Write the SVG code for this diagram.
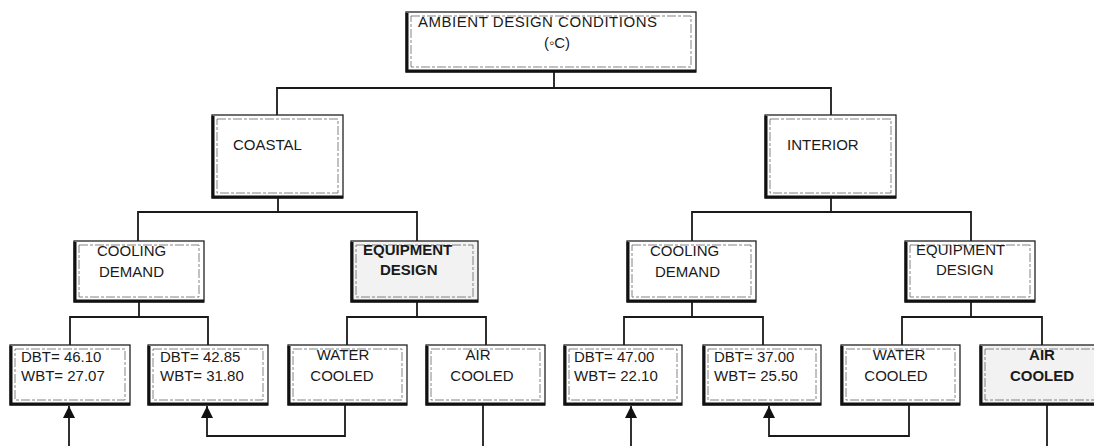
<svg xmlns="http://www.w3.org/2000/svg" width="1094" height="446" viewBox="0 0 1094 446">
<defs>
<style>
.o{fill:#fff;stroke:#222;stroke-width:1.3}
.g{fill:#f2f2f2}
.i{fill:none;stroke:#666;stroke-width:0.8;stroke-dasharray:9 2 3 2}
.s{fill:none;stroke:#111;stroke-width:3}
.t{font-family:"Liberation Sans",Arial,sans-serif;font-size:15px;fill:#1a1a1a}
.b{font-weight:bold}
.m{text-anchor:middle}
.c{fill:none;stroke:#1a1a1a;stroke-width:1.8}
</style>
<marker id="ah" markerUnits="userSpaceOnUse" markerWidth="12" markerHeight="14" refX="12" refY="6" orient="auto">
<path d="M0,0 L12,6 L0,12 Z" fill="#111"/>
</marker>
</defs>
<rect width="1094" height="446" fill="#fff"/>

<g id="connectors">
<path class="c" d="M554,72 V88 M277,115 V88 H831 V115"/>
<path class="c" d="M278,198 V212 M138,241 V212 H417 V241"/>
<path class="c" d="M831,198 V212 M692,241 V212 H971 V241"/>
<path class="c" d="M139,302 V317 M70,345 V317 H208 V345"/>
<path class="c" d="M417,302 V317 M347,345 V317 H486 V345"/>
<path class="c" d="M692,302 V317 M624,345 V317 H763 V345"/>
<path class="c" d="M971,302 V317 M902,345 V317 H1042 V345"/>
<path class="c" d="M69,446 V406" marker-end="url(#ah)"/>
<path class="c" d="M345,405 V436 H207 V406" marker-end="url(#ah)"/>
<path class="c" d="M483,405 V446"/>
<path class="c" d="M631,446 V406" marker-end="url(#ah)"/>
<path class="c" d="M909,405 V436 H769 V406" marker-end="url(#ah)"/>
<path class="c" d="M1047,405 V446"/>
</g>

<g id="ambient">
<rect class="o" x="406" y="12" width="290" height="60"/>
<rect class="i" x="411" y="16" width="280" height="51"/>
<path class="s" d="M407,13 V71 H696"/>
<text class="t" x="418" y="27" textLength="239">AMBIENT DESIGN CONDITIONS</text>
<text class="t m" x="557" y="48" font-size="14">(◦C)</text>
</g>

<g id="coastal">
<rect class="o" x="212" y="115" width="131" height="83"/>
<rect class="i" x="217" y="119" width="121" height="74"/>
<path class="s" d="M213,116 V197 H343"/>
<text class="t" x="233" y="150">COASTAL</text>
</g>

<g id="interior">
<rect class="o" x="765" y="115" width="131" height="83"/>
<rect class="i" x="770" y="119" width="121" height="74"/>
<path class="s" d="M766,116 V197 H896"/>
<text class="t" x="787" y="150">INTERIOR</text>
</g>

<g id="coastal-cooling-demand">
<rect class="o" x="74" y="241" width="130" height="61"/>
<rect class="i" x="79" y="245" width="120" height="52"/>
<path class="s" d="M75,242 V301 H204"/>
<text class="t" x="97" y="256">COOLING</text>
<text class="t" x="99" y="277">DEMAND</text>
</g>

<g id="coastal-equipment-design">
<rect class="o g" x="351" y="241" width="127" height="61"/>
<rect class="i" x="356" y="245" width="117" height="52"/>
<path class="s" d="M352,242 V301 H478"/>
<text class="t b" x="363" y="255">EQUIPMENT</text>
<text class="t b" x="380" y="275">DESIGN</text>
</g>

<g id="interior-cooling-demand">
<rect class="o" x="627" y="241" width="129" height="61"/>
<rect class="i" x="632" y="245" width="119" height="52"/>
<path class="s" d="M628,242 V301 H756"/>
<text class="t" x="650" y="256">COOLING</text>
<text class="t" x="655" y="277">DEMAND</text>
</g>

<g id="interior-equipment-design">
<rect class="o" x="905" y="241" width="130" height="61"/>
<rect class="i" x="910" y="245" width="120" height="52"/>
<path class="s" d="M906,242 V301 H1035"/>
<text class="t" x="916" y="255">EQUIPMENT</text>
<text class="t" x="936" y="275">DESIGN</text>
</g>

<g id="coastal-dbt-46">
<rect class="o" x="10" y="345" width="120" height="60"/>
<rect class="i" x="15" y="349" width="110" height="51"/>
<path class="s" d="M11,346 V404 H130"/>
<text class="t" x="21" y="362" font-size="16">DBT= 46.10</text>
<text class="t" x="21" y="381" font-size="16">WBT= 27.07</text>
</g>

<g id="coastal-dbt-42">
<rect class="o" x="148" y="345" width="120" height="60"/>
<rect class="i" x="153" y="349" width="110" height="51"/>
<path class="s" d="M149,346 V404 H268"/>
<text class="t" x="160" y="362" font-size="16">DBT= 42.85</text>
<text class="t" x="160" y="381" font-size="16">WBT= 31.80</text>
</g>

<g id="coastal-water-cooled">
<rect class="o" x="288" y="345" width="119" height="60"/>
<rect class="i" x="293" y="349" width="109" height="51"/>
<path class="s" d="M289,346 V404 H407"/>
<text class="t m" x="343" y="360" font-size="16">WATER</text>
<text class="t m" x="342" y="381" font-size="16">COOLED</text>
</g>

<g id="coastal-air-cooled">
<rect class="o" x="426" y="345" width="119" height="60"/>
<rect class="i" x="431" y="349" width="109" height="51"/>
<path class="s" d="M427,346 V404 H545"/>
<text class="t m" x="478" y="360" font-size="16">AIR</text>
<text class="t m" x="482" y="381" font-size="16">COOLED</text>
</g>

<g id="interior-dbt-47">
<rect class="o" x="564" y="345" width="118" height="60"/>
<rect class="i" x="569" y="349" width="108" height="51"/>
<path class="s" d="M565,346 V404 H682"/>
<text class="t" x="574" y="362" font-size="16">DBT= 47.00</text>
<text class="t" x="574" y="381" font-size="16">WBT= 22.10</text>
</g>

<g id="interior-dbt-37">
<rect class="o" x="703" y="345" width="118" height="60"/>
<rect class="i" x="708" y="349" width="108" height="51"/>
<path class="s" d="M704,346 V404 H821"/>
<text class="t" x="714" y="362" font-size="16">DBT= 37.00</text>
<text class="t" x="714" y="381" font-size="16">WBT= 25.50</text>
</g>

<g id="interior-water-cooled">
<rect class="o" x="841" y="345" width="119" height="60"/>
<rect class="i" x="846" y="349" width="109" height="51"/>
<path class="s" d="M842,346 V404 H960"/>
<text class="t m" x="899" y="360" font-size="16">WATER</text>
<text class="t m" x="896" y="381" font-size="16">COOLED</text>
</g>

<g id="interior-air-cooled">
<rect class="o g" x="980" y="345" width="122" height="60"/>
<rect class="i" x="985" y="349" width="112" height="51"/>
<path class="s" d="M981,346 V404 H1102"/>
<text class="t m b" x="1042" y="360" font-size="16">AIR</text>
<text class="t m b" x="1042" y="381" font-size="16">COOLED</text>
</g>
</svg>
